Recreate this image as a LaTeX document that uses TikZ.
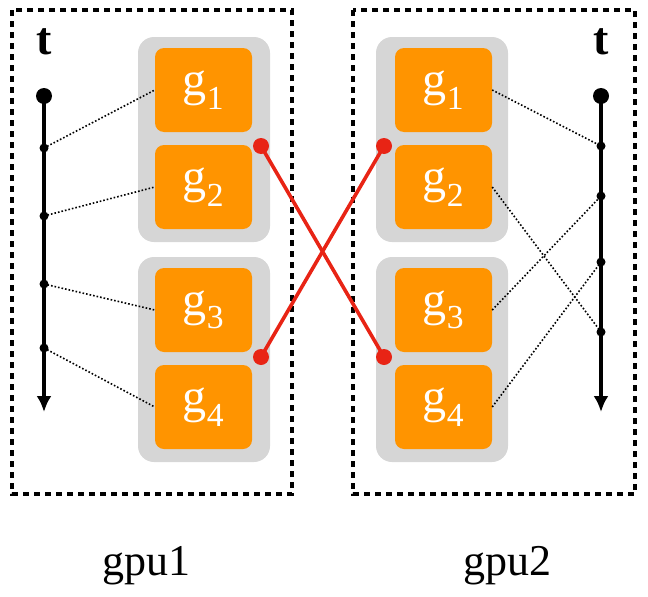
\documentclass[tikz,border=0pt]{standalone}
\usetikzlibrary{arrows.meta}
\usepackage{fontspec}
\setmainfont{Liberation Serif}
\definecolor{gor}{HTML}{FF9400}
\definecolor{gred}{HTML}{E82415}
\definecolor{ggr}{HTML}{D6D6D6}
\begin{document}
\begin{tikzpicture}[x=1pt,y=-1pt,
  box/.style={draw=black,line width=3.2pt,dash pattern=on 6pt off 5pt},
  grp/.style={fill=ggr,rounded corners=16pt},
  gn/.style={fill=gor,rounded corners=9pt,minimum width=97pt,minimum height=84pt,text=white,font=\fontsize{48}{48}\selectfont,inner sep=0pt},
  dt/.style={dotted,line width=1.6pt},
  tl/.style={line width=3.4pt,-{Latex[length=16pt,width=15pt]}},
  sd/.style={circle,fill=black,inner sep=0pt,minimum size=9pt},
  red/.style={draw=gred,line width=3.6pt},
  rd/.style={circle,fill=gred,inner sep=0pt,minimum size=16pt},
  lab/.style={font=\fontsize{44}{44}\selectfont}]
\useasboundingbox (0,0) rectangle (648,597);
\draw[box] (12,10) rectangle (292,494);
\draw[box] (353,10) rectangle (635,494);
\fill[grp] (138,37) rectangle (270,242);
\fill[grp] (138,257) rectangle (270,462);
\fill[grp] (376,37) rectangle (508,242);
\fill[grp] (376,257) rectangle (508,462);
\node[gn] (a1) at (203.5,90) {g\textsubscript{1}};
\node[gn] (a2) at (203.5,187) {g\textsubscript{2}};
\node[gn] (a3) at (203.5,310) {g\textsubscript{3}};
\node[gn] (a4) at (203.5,407) {g\textsubscript{4}};
\node[gn] (b1) at (443.5,90) {g\textsubscript{1}};
\node[gn] (b2) at (443.5,187) {g\textsubscript{2}};
\node[gn] (b3) at (443.5,310) {g\textsubscript{3}};
\node[gn] (b4) at (443.5,407) {g\textsubscript{4}};
% timelines
\node[lab,font=\fontsize{46}{46}\selectfont\bfseries] (tl) at (44,42) {t};
\node[lab,font=\fontsize{46}{46}\selectfont\bfseries] (tr) at (601,42) {t};
\node[circle,fill=black,inner sep=0pt,minimum size=16pt] (l0) at (44,96) {};
\node[circle,fill=black,inner sep=0pt,minimum size=16pt] (r0) at (601,96) {};
\coordinate (le) at (44,412);
\coordinate (re) at (601,412);
\draw[tl] (l0.center) -- (le);
\draw[tl] (r0.center) -- (re);
\node[sd] (l1) at (44,148) {};
\node[sd] (l2) at (44,216) {};
\node[sd] (l3) at (44,284) {};
\node[sd] (l4) at (44,348) {};
\node[sd] (r1) at (601,146) {};
\node[sd] (r2) at (601,196) {};
\node[sd] (r3) at (601,262) {};
\node[sd] (r4) at (601,332) {};
\draw[dt] (l1.center) -- (a1.west);
\draw[dt] (l2.center) -- (a2.west);
\draw[dt] (l3.center) -- (a3.west);
\draw[dt] (l4.center) -- (a4.west);
\draw[dt] (b1.east) -- (r1.center);
\draw[dt] (b2.east) -- (r4.center);
\draw[dt] (b3.east) -- (r2.center);
\draw[dt] (b4.east) -- (r3.center);
% red
\node[rd] (p1) at (261,146) {};
\node[rd] (p2) at (261,357) {};
\node[rd] (q1) at (384,146) {};
\node[rd] (q2) at (384,357) {};
\draw[red] (p1.center) -- (q2.center);
\draw[red] (p2.center) -- (q1.center);
\node[lab] (gpu1) at (146,566) {gpu1};
\node[lab] (gpu2) at (507,566) {gpu2};
\end{tikzpicture}
\end{document}
